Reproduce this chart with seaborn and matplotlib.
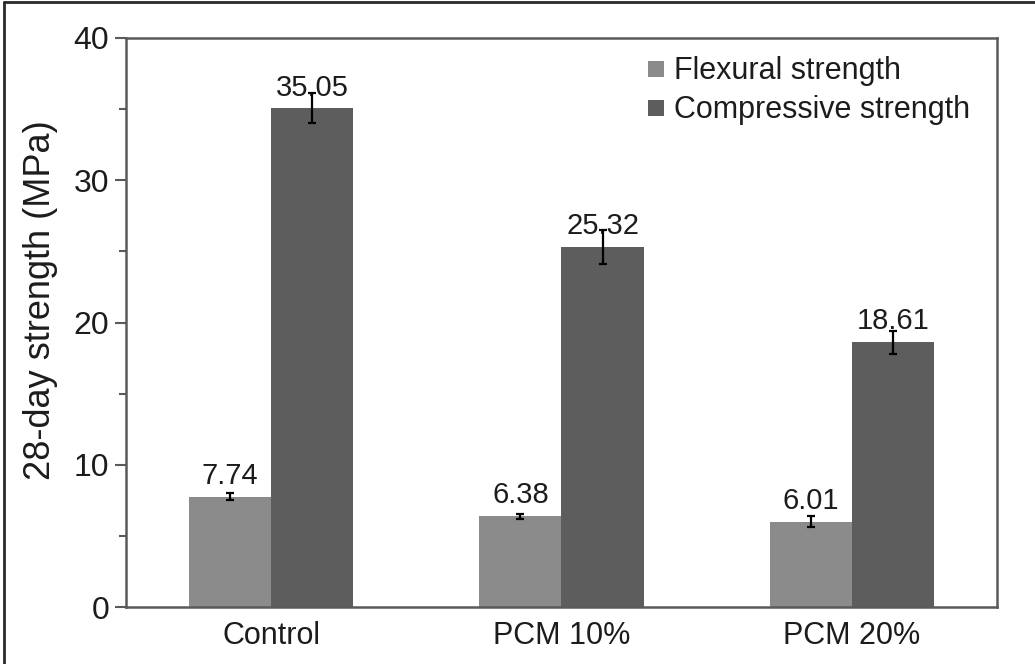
import matplotlib
matplotlib.use("Agg")
import matplotlib.pyplot as plt
from matplotlib.lines import Line2D
import seaborn as sns
import pandas as pd

# Mix designs and measured 28-day strengths (MPa)
mixes = ["Control", "PCM 10%", "PCM 20%"]
flexural = [7.74, 6.38, 6.01]
flexural_err = [0.25, 0.17, 0.38]
compressive = [35.05, 25.32, 18.61]
compressive_err = [1.05, 1.2, 0.8]
series_names = ["Flexural strength", "Compressive strength"]
y_ticks = [0, 10, 20, 30, 40]

df = pd.DataFrame({
    "mix": mixes * 2,
    "strength": flexural + compressive,
    "err": flexural_err + compressive_err,
    "series": [series_names[0]] * 3 + [series_names[1]] * 3,
})

sns.set_theme(style="white")
plt.rcParams["font.family"] = ["Liberation Sans", "DejaVu Sans"]
text_color = "#1c1c1c"
spine_color = "#5a5a5a"

fig = plt.figure(figsize=(10.35, 6.64), dpi=100)
ax = fig.add_axes([0.1217, 0.0858, 0.9633 - 0.1217, 0.9428 - 0.0858])

palette = {series_names[0]: "#8b8b8b", series_names[1]: "#5d5d5d"}
sns.barplot(data=df, x="mix", y="strength", hue="series", order=mixes,
            hue_order=series_names, palette=palette, width=0.566, gap=0,
            errorbar=None, saturation=1, linewidth=0, ax=ax, legend=False)

# error bars and value labels, placed on the drawn bars
for container, name in zip(ax.containers, series_names):
    sub = df[df["series"] == name].set_index("mix").loc[mixes]
    for patch, val, err in zip(container.patches, sub["strength"], sub["err"]):
        xc = patch.get_x() + patch.get_width() / 2
        ax.annotate(f"{val:.2f}", xy=(xc, val), xytext=(0, 15),
                    textcoords="offset points", ha="center", va="center",
                    fontsize=21, color=text_color, zorder=4)
        ax.errorbar(xc, val, yerr=err, fmt="none", ecolor="black",
                    elinewidth=1.6, capsize=3, capthick=1.6, zorder=5)

ax.set_xlim(-0.5, 2.5)
ax.set_ylim(0, 40)
ax.set_yticks(y_ticks)
ax.set_yticks([5, 15, 25, 35], minor=True)
ax.set_xlabel("")
ax.set_ylabel("28-day strength (MPa)", fontsize=26, color=text_color)
ax.yaxis.set_label_coords(-0.078, 0.54)
ax.tick_params(axis="y", which="major", direction="out", length=8, width=1.5,
               color=spine_color, labelsize=23, labelcolor=text_color, left=True, pad=4)
ax.tick_params(axis="y", which="minor", direction="out", length=5, width=1.5,
               color=spine_color, left=True)
ax.tick_params(axis="x", length=0, labelsize=22, labelcolor=text_color, pad=10)

for side in ["left", "bottom", "top", "right"]:
    ax.spines[side].set_visible(True)
    ax.spines[side].set_color(spine_color)
    ax.spines[side].set_linewidth(1.8)

handles = [Line2D([0], [0], marker="s", linestyle="none", markersize=11,
                  markerfacecolor=palette[n], markeredgewidth=0) for n in series_names]
ax.legend(handles, series_names, loc="upper right", frameon=False, fontsize=22,
          handlelength=0.6, handletextpad=0.3, labelspacing=0.3,
          borderaxespad=0.2, bbox_to_anchor=(0.99, 1.0))
for t in ax.get_legend().get_texts():
    t.set_color(text_color)

# frame lines along the top and left edges of the figure
fig.add_artist(Line2D([0.004, 1.0], [0.997, 0.997], transform=fig.transFigure,
                      color="#2a2a2a", linewidth=2))
fig.add_artist(Line2D([0.004, 0.004], [0.0, 0.997], transform=fig.transFigure,
                      color="#2a2a2a", linewidth=2))

fig.savefig("out.png", dpi=100, facecolor="white")
